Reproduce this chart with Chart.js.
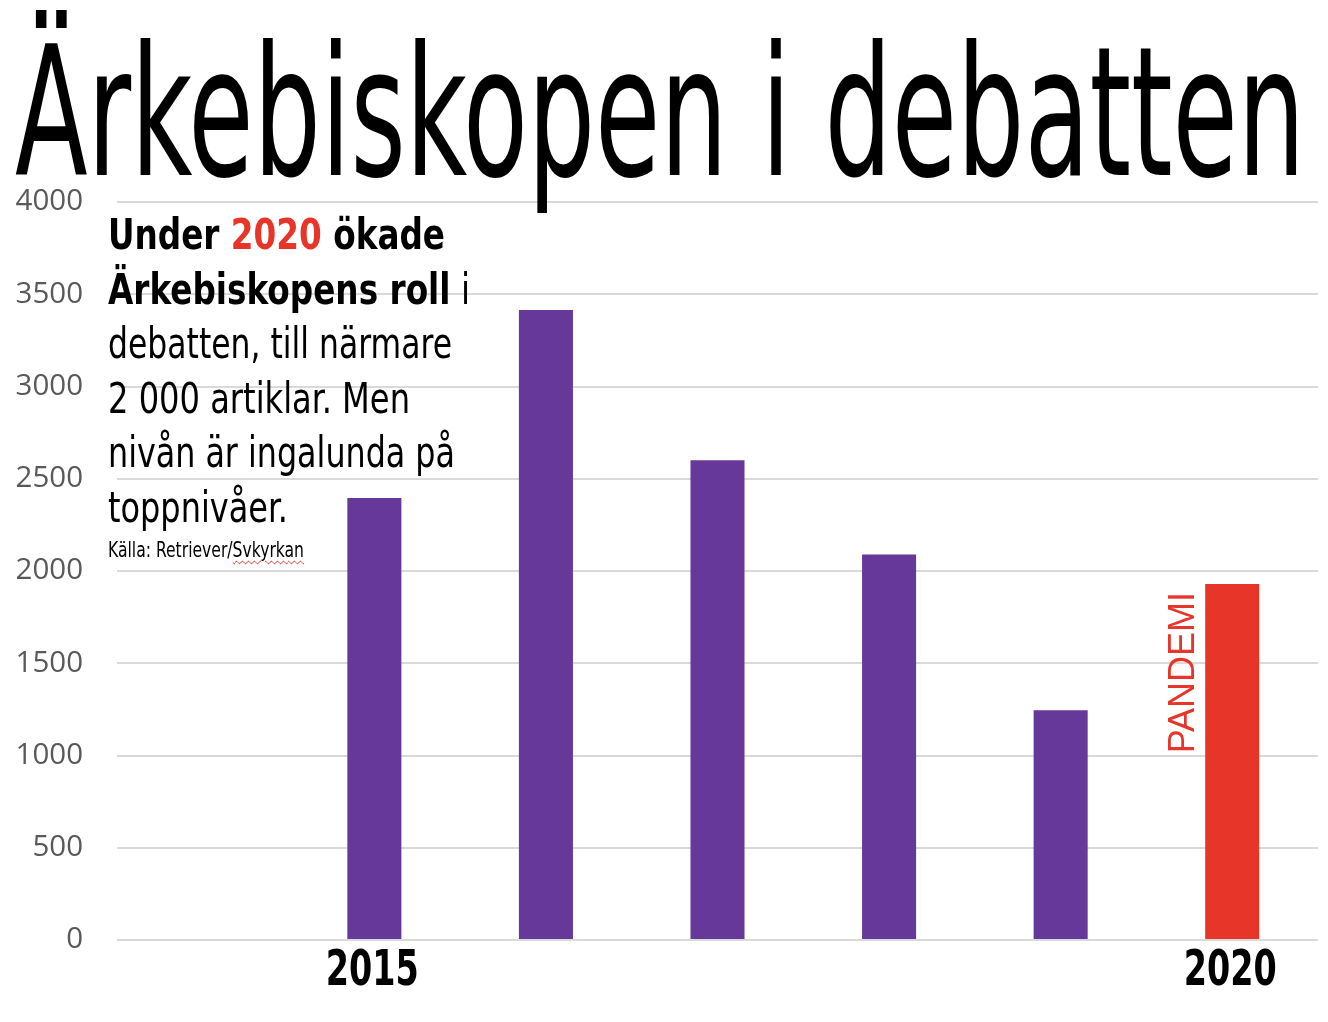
<!DOCTYPE html>
<html lang="sv">
<head>
<meta charset="utf-8">
<title>Ärkebiskopen i debatten</title>
<script src="https://cdn.jsdelivr.net/npm/chart.js@4"></script>
<style>
  html, body { margin: 0; padding: 0; background: #fff; }
  #wrap { position: relative; width: 1328px; height: 1022px; overflow: hidden; }
  #chart { position: absolute; left: 0; top: 0; }
  .ov { position: absolute; white-space: nowrap; color: #000;
        font-family: "Liberation Sans Narrow", "DejaVu Sans Condensed", "Roboto Condensed", sans-serif; }
  .fit { display: inline-block; transform-origin: 0 0; }
  #title { left: 15px; top: 23px; font-size: 180px; line-height: 180px; z-index: 2; }
  #note { left: 108px; top: 208px; font-size: 42px; line-height: 54.6px; z-index: 2; }
  #note b { font-weight: bold; }
  #note .red { color: #e8352a; }
  #src { left: 108px; top: 540px; font-size: 21px; line-height: 21px; z-index: 2; }
  #src .sq { text-decoration: underline wavy #e0201a; text-decoration-thickness: 1px; text-underline-offset: 3px; }
</style>
</head>
<body>
<div id="wrap">
  <canvas id="chart" width="1328" height="1022"></canvas>
  <div id="title" class="ov"><span class="fit" data-w="1290">Ärkebiskopen i debatten</span></div>
  <div id="note" class="ov">
    <div><span class="fit" data-w="337"><b>Under <span class="red">2020</span> ökade</b></span></div>
    <div><span class="fit" data-w="362"><b>Ärkebiskopens roll</b> i</span></div>
    <div><span class="fit" data-w="344">debatten, till närmare</span></div>
    <div><span class="fit" data-w="302">2 000 artiklar. Men</span></div>
    <div><span class="fit" data-w="347">nivån är ingalunda på</span></div>
    <div><span class="fit" data-w="180">toppnivåer.</span></div>
  </div>
  <div id="src" class="ov"><span class="fit" data-w="196">Källa: Retriever/<span class="sq">Svkyrkan</span></span></div>
</div>
<script>
// ---- data ----
const categories = ['', '2015', '2016', '2017', '2018', '2019', '2020'];
const articles = [null, 2395, 3415, 2600, 2090, 1245, 1930];
const shownYears = ['2015', '2020'];
const highlightYear = '2020';
const yMin = 0;
const yMax = 4000;
const yStep = 500;
const pandemicLabel = 'PANDEMI';

const PURPLE = '#663899';
const RED = '#e8352a';
const NARROW = '"Liberation Sans Narrow", "DejaVu Sans Condensed", sans-serif';

function fitAll() {
  document.querySelectorAll('.fit').forEach(el => {
    el.style.transform = 'none';
    const w = el.getBoundingClientRect().width;
    const target = parseFloat(el.dataset.w);
    if (w > 0) el.style.transform = 'scaleX(' + (target / w) + ')';
  });
}
fitAll();
if (document.fonts && document.fonts.ready) document.fonts.ready.then(fitAll);

// year labels on the category axis, drawn condensed (bold narrow face)
const yearLabelPlugin = {
  id: 'yearLabels',
  afterDraw(chart) {
    const xs = chart.scales.x;
    const ctx = chart.ctx;
    ctx.save();
    ctx.font = 'bold 49px ' + NARROW;
    ctx.fillStyle = '#000';
    ctx.textAlign = 'center';
    ctx.textBaseline = 'alphabetic';
    categories.forEach((c, i) => {
      if (!shownYears.includes(c)) return;
      const w = ctx.measureText(c).width;
      const sx = Math.min(1, 93 / w);
      const x = xs.getPixelForValue(i) - 2;
      const y = chart.chartArea.bottom + 45;
      ctx.save();
      ctx.translate(x, y);
      ctx.scale(sx, 1);
      ctx.fillText(c, 0, 0);
      ctx.restore();
    });
    ctx.restore();
  }
};

const pandemicPlugin = {
  id: 'pandemic',
  afterDatasetsDraw(chart) {
    const xs = chart.scales.x, ys = chart.scales.y;
    const idx = categories.indexOf(highlightYear);
    const x = xs.getPixelForValue(idx) - 38;
    const y = ys.getPixelForValue(articles[idx]) + 8;
    const ctx = chart.ctx;
    ctx.save();
    ctx.translate(x, y);
    ctx.rotate(-Math.PI / 2);
    ctx.font = '36px "Liberation Sans", Arial, sans-serif';
    ctx.fillStyle = RED;
    ctx.textAlign = 'right';
    ctx.textBaseline = 'alphabetic';
    ctx.fillText(pandemicLabel, 0, 0);
    ctx.restore();
  }
};

new Chart(document.getElementById('chart'), {
  type: 'bar',
  data: {
    labels: categories,
    datasets: [{
      data: articles,
      backgroundColor: categories.map(c => c === highlightYear ? RED : PURPLE),
      borderWidth: 0,
      barPercentage: 0.315,
      categoryPercentage: 1
    }]
  },
  options: {
    responsive: false,
    animation: false,
    devicePixelRatio: 1,
    layout: { padding: { top: 202, right: 10, left: 0, bottom: 0 } },
    plugins: { legend: { display: false }, tooltip: { enabled: false }, title: { display: false } },
    scales: {
      x: {
        grid: { display: false, drawTicks: false },
        border: { display: false },
        ticks: { display: false },
        afterFit(scale) { scale.height = 82; }
      },
      y: {
        min: yMin,
        max: yMax,
        grid: { color: '#d9d9d9', lineWidth: 2, drawTicks: false },
        border: { display: false },
        ticks: {
          stepSize: yStep,
          padding: 34,
          color: '#595959',
          font: { family: '"Open Sans", sans-serif', size: 29.5 },
          callback(value) { return String(value); }
        },
        afterFit(scale) { scale.width = 117; }
      }
    }
  },
  plugins: [pandemicPlugin, yearLabelPlugin]
});
</script>
</body>
</html>
